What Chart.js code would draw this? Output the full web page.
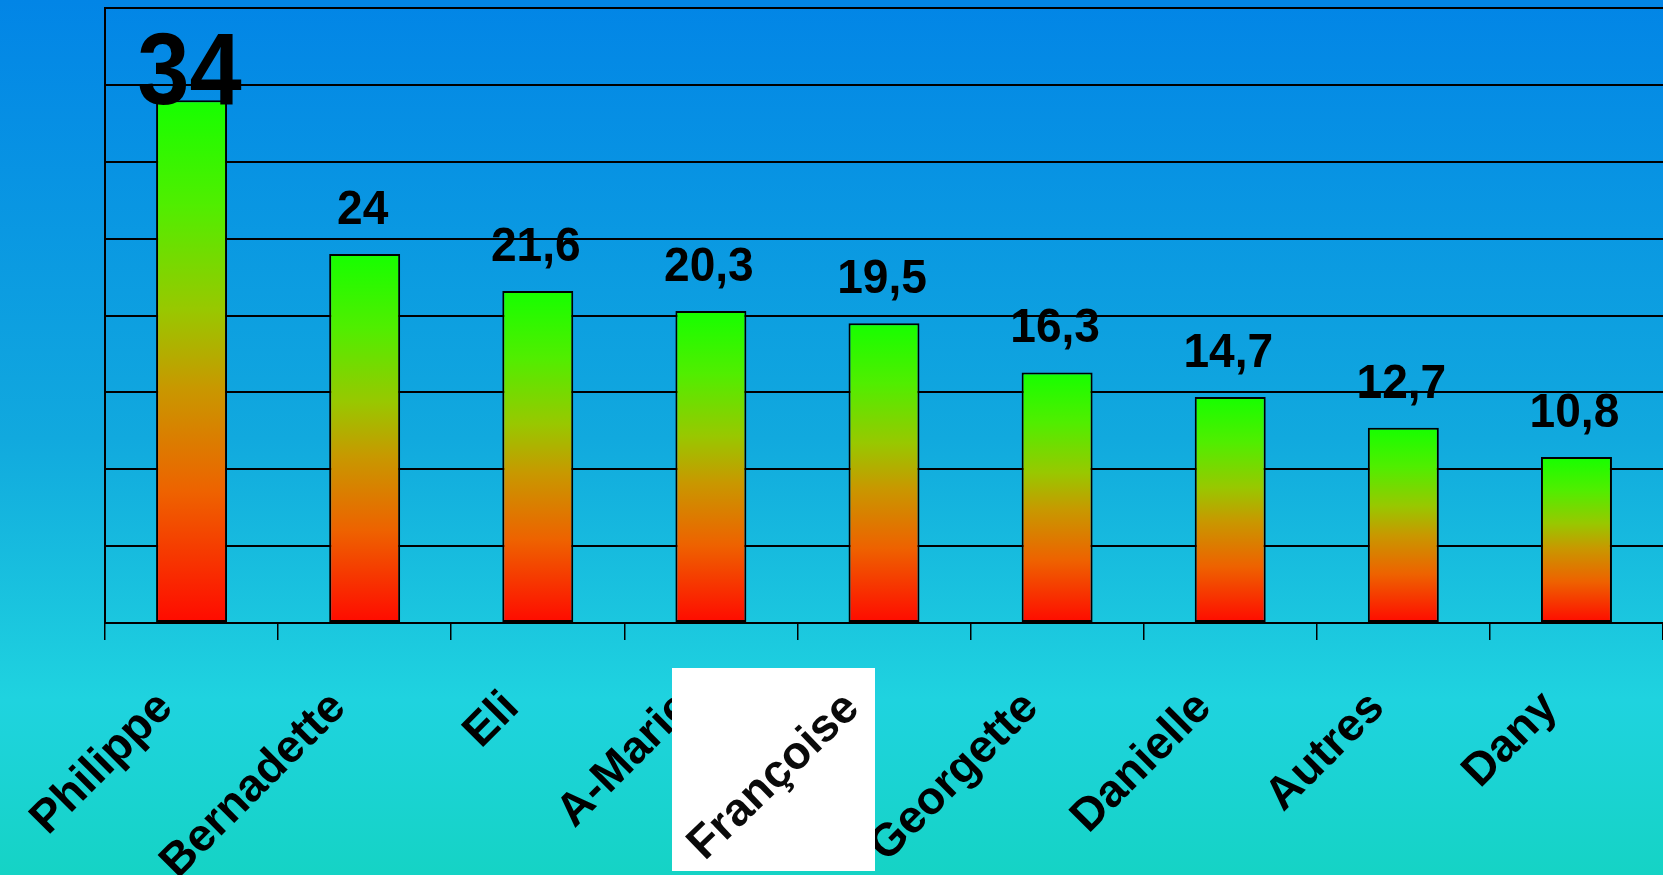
<!DOCTYPE html>
<html>
<head>
<meta charset="utf-8">
<script src="https://cdn.jsdelivr.net/npm/chart.js@4/dist/chart.umd.min.js"></script>
<style>
  html, body { margin: 0; padding: 0; background: #0ea6dc; overflow: hidden; }
  #wrap { width: 1663px; height: 875px; }
</style>
</head>
<body>
<div id="wrap"><canvas id="c" width="1663" height="875"></canvas></div>
<script>
// ---- data ----
const categories = ['Philippe', 'Bernadette', 'Eli', 'A-Marie', 'Françoise', 'Georgette', 'Danielle', 'Autres', 'Dany'];
const values = [34, 24, 21.6, 20.3, 19.5, 16.3, 14.7, 12.7, 10.8];
const yMin = 0;
const yMax = 40;
const yStep = 5;
const imageLabelIndex = 4; // "Françoise" label shown as a white pasted box

const fmt = v => String(v).replace('.', ',');

const bgPlugin = {
  id: 'bg',
  beforeDraw(chart) {
    const { ctx, width, height } = chart;
    const g = ctx.createLinearGradient(0, 0, 0, height);
    g.addColorStop(0, '#0285e6');
    g.addColorStop(0.5, '#11a9de');
    g.addColorStop(0.8, '#1fd3df');
    g.addColorStop(1, '#15d3c5');
    ctx.save();
    ctx.fillStyle = g;
    ctx.fillRect(0, 0, width, height);
    ctx.restore();
  }
};

const labelPlugin = {
  id: 'valueLabels',
  afterDatasetsDraw(chart) {
    const { ctx } = chart;
    const meta = chart.getDatasetMeta(0);
    ctx.save();
    ctx.fillStyle = '#000';
    ctx.textAlign = 'center';
    ctx.textBaseline = 'alphabetic';
    meta.data.forEach((bar, i) => {
      const big = i === 0;
      const size = big ? 102 : 49;
      const sx = big ? 0.92 : 0.94;
      const y = big ? bar.y + 4 : bar.y - 30;
      ctx.save();
      ctx.font = 'bold ' + size + 'px "Liberation Sans", Arial, sans-serif';
      ctx.translate(bar.x - 2, y);
      ctx.scale(sx, 1);
      ctx.fillText(fmt(values[i]), 0, 0);
      ctx.restore();
    });
    ctx.restore();
  },
  afterDraw(chart) {
    const { ctx } = chart;
    ctx.save();
    ctx.fillStyle = '#ffffff';
    ctx.fillRect(672, 668, 203, 203);
    ctx.translate(783, 786);
    ctx.rotate(-44 * Math.PI / 180);
    ctx.fillStyle = '#0a0a0a';
    ctx.font = 'bold 46px "Liberation Sans", Arial, sans-serif';
    ctx.textAlign = 'center';
    ctx.textBaseline = 'alphabetic';
    ctx.fillText(categories[imageLabelIndex], 0, 0);
    ctx.restore();
  }
};

const barGradient = (c) => {
  const chart = c.chart;
  const { ctx, chartArea, scales } = chart;
  if (!chartArea || c.type !== 'data' || !scales.y) return '#18ff00';
  const yTop = scales.y.getPixelForValue(c.raw);
  const yBot = scales.y.getPixelForValue(0);
  const g = ctx.createLinearGradient(0, yBot, 0, yTop);
  g.addColorStop(0, '#ff0a00');
  g.addColorStop(0.25, '#ee6200');
  g.addColorStop(0.45, '#c89800');
  g.addColorStop(0.6, '#98c800');
  g.addColorStop(0.8, '#50ee00');
  g.addColorStop(1, '#16ff00');
  return g;
};

new Chart(document.getElementById('c'), {
  type: 'bar',
  data: {
    labels: categories,
    datasets: [{
      data: values,
      backgroundColor: barGradient,
      borderColor: '#000',
      borderWidth: 2,
      borderSkipped: false,
      categoryPercentage: 1,
      barPercentage: 0.41
    }]
  },
  options: {
    responsive: false,
    animation: false,
    devicePixelRatio: 1,
    layout: { padding: { left: 105, top: 8, right: 0, bottom: 0 } },
    plugins: { legend: { display: false }, tooltip: { enabled: false } },
    scales: {
      x: {
        offset: true,
        grid: {
          offset: true,
          drawOnChartArea: false,
          drawTicks: true,
          tickLength: 17,
          color: '#000',
          lineWidth: 1.5
        },
        border: { display: true, color: '#000', width: 2 },
        ticks: {
          autoSkip: false,
          minRotation: 45,
          maxRotation: 45,
          padding: 41,
          labelOffset: -26,
          color: '#000',
          font: { family: '"Liberation Sans", Arial, sans-serif', size: 46, weight: 'bold', lineHeight: 1.2 },
          callback: (v, i) => (i === imageLabelIndex ? '' : categories[i])
        },
        afterFit: (s) => { s.height = 252; s.paddingLeft = 0; s.paddingRight = 0; }
      },
      y: {
        min: yMin,
        max: yMax,
        ticks: { display: false, stepSize: yStep },
        grid: { color: '#000', lineWidth: 2, drawTicks: false },
        border: { display: true, color: '#000', width: 2 },
        afterFit: (s) => { s.width = 0; s.paddingTop = 0; s.paddingBottom = 0; }
      }
    }
  },
  plugins: [bgPlugin, labelPlugin]
});
</script>
</body>
</html>
